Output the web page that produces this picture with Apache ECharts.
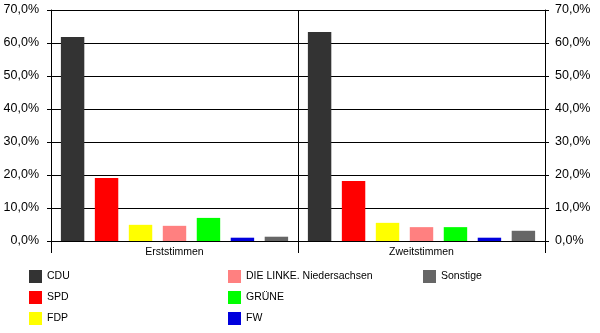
<!DOCTYPE html>
<html>
<head>
<meta charset="utf-8">
<script src="https://cdn.jsdelivr.net/npm/echarts@6/dist/echarts.min.js"></script>
<style>
  html, body { margin: 0; padding: 0; background: #ffffff; }
  #chart { width: 600px; height: 333px; }
</style>
</head>
<body>
<div id="chart"></div>
<script>
// Vote shares (percent) per party, for first and second votes
const categories = ['Erststimmen', 'Zweitstimmen'];
const parties = ['CDU', 'SPD', 'FDP', 'DIE LINKE. Niedersachsen', 'GRÜNE', 'FW', 'Sonstige'];
const cdu = [61.8, 63.3];
const spd = [19.1, 18.2];
const fdp = [4.9, 5.5];
const linke = [4.6, 4.2];
const gruene = [7.0, 4.2];
const fw = [1.0, 1.0];
const sonstige = [1.3, 3.1];
const partyColors = ['#333333', '#ff0000', '#ffff00', '#ff8080', '#00ff00', '#0000dd', '#666666'];
const yMin = 0, yMax = 70, yStep = 10;

const seriesValues = [cdu, spd, fdp, linke, gruene, fw, sonstige];
const FONT = '"Liberation Sans", Arial, sans-serif';
const pct = v => v.toFixed(1).replace('.', ',') + '%';

const chart = echarts.init(document.getElementById('chart'), null, { renderer: 'canvas' });

const legendColumn = (names, left) => ({
  orient: 'vertical',
  left: left,
  top: 270,
  padding: 0,
  itemWidth: 13,
  itemHeight: 13,
  itemGap: 8,
  icon: 'rect',
  selectedMode: false,
  data: names,
  textStyle: { fontFamily: FONT, fontSize: 10.5, color: '#000000' }
});

const valueAxis = (position, margin) => ({
  type: 'value',
  position: position,
  min: yMin,
  max: yMax,
  interval: yStep,
  axisLine: { show: true, lineStyle: { color: '#000000', width: 1 } },
  axisTick: { show: true, length: 4, lineStyle: { color: '#000000' } },
  axisLabel: { formatter: pct, margin: margin, fontFamily: FONT, fontSize: 12.5, color: '#000000' },
  splitLine: { show: position === 'left', lineStyle: { color: '#000000', width: 1 } }
});

chart.setOption({
  animation: false,
  backgroundColor: '#ffffff',
  grid: { left: 51, right: 55, top: 10, bottom: 92, containLabel: false },
  legend: [
    legendColumn(parties.slice(0, 3), 29),
    legendColumn(parties.slice(3, 6), 228),
    legendColumn(parties.slice(6), 423)
  ],
  xAxis: {
    type: 'category',
    data: categories,
    boundaryGap: true,
    axisLine: { show: true, lineStyle: { color: '#000000', width: 1 } },
    axisTick: { show: true, length: 12, lineStyle: { color: '#000000' } },
    axisLabel: { margin: 6, fontFamily: FONT, fontSize: 10.5, color: '#000000' },
    splitLine: { show: true, lineStyle: { color: '#000000', width: 1 } }
  },
  yAxis: [valueAxis('left', 12), valueAxis('right', 10)],
  series: parties.map((name, i) => ({
    name: name,
    type: 'bar',
    yAxisIndex: 0,
    data: seriesValues[i],
    barGap: '45%',
    barCategoryGap: '8%',
    itemStyle: { color: partyColors[i] }
  }))
});
</script>
</body>
</html>
